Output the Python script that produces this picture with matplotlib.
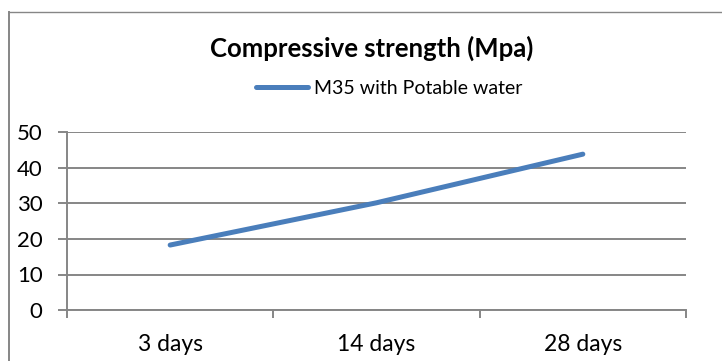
import matplotlib
matplotlib.use('Agg')
import matplotlib.pyplot as plt
from matplotlib.lines import Line2D

# Compressive strength of M35 concrete with potable water
ages = ['3 days', '14 days', '28 days']
strength = [18.3, 30.2, 43.9]
series_name = 'M35 with Potable water'
y_ticks = [0, 10, 20, 30, 40, 50]

plt.rcParams['font.family'] = ['Lato', 'DejaVu Sans']

fig = plt.figure(figsize=(7.22, 3.61), dpi=100)
ax = fig.add_axes([67 / 722, 51 / 361, 619 / 722, 177.5 / 361])

x = list(range(len(ages)))
line, = ax.plot(x, strength, color='#4a7ebb', linewidth=3.6,
                solid_capstyle='round', label=series_name)

grid_color = '#868686'
ax.set_xlim(-0.5, len(ages) - 0.5)
ax.set_ylim(0, 50)
ax.set_yticks(y_ticks)
ax.set_yticklabels([str(v) for v in y_ticks])
ax.yaxis.grid(True, color=grid_color, linewidth=1.4)
ax.set_axisbelow(True)

# category labels sit between the boundary ticks
ax.set_xticks(x)
ax.set_xticklabels(ages)
ax.set_xticks([i - 0.5 for i in range(len(ages) + 1)], minor=True)
ax.tick_params(axis='x', which='major', length=0, pad=17, labelsize=16.5)
ax.tick_params(axis='x', which='minor', length=6, width=1.4, color=grid_color)
ax.tick_params(axis='y', length=6.5, width=1.4, color=grid_color, pad=11, labelsize=16)

for side in ['top', 'right']:
    ax.spines[side].set_visible(False)
for side in ['left', 'bottom']:
    ax.spines[side].set_color(grid_color)
    ax.spines[side].set_linewidth(1.4)

fig.text(372 / 722, 1 - 48 / 361, 'Compressive strength (Mpa)', ha='center', va='center',
         fontsize=18.5, fontweight='bold')
ax.legend(handles=[line], loc='center', bbox_to_anchor=(389 / 722, 1 - 88 / 361),
          bbox_transform=fig.transFigure, frameon=False, fontsize=14,
          handlelength=2.7, handletextpad=0.3)

# chart border (top and left edges only are in view)
fig.add_artist(Line2D([8.5 / 722, 8.5 / 722], [0, 1 - 11.5 / 361], transform=fig.transFigure,
                      color=grid_color, linewidth=1.4))
fig.add_artist(Line2D([8.5 / 722, 1], [1 - 11.5 / 361, 1 - 11.5 / 361], transform=fig.transFigure,
                      color=grid_color, linewidth=1.0))

fig.savefig('out.png', dpi=100)
